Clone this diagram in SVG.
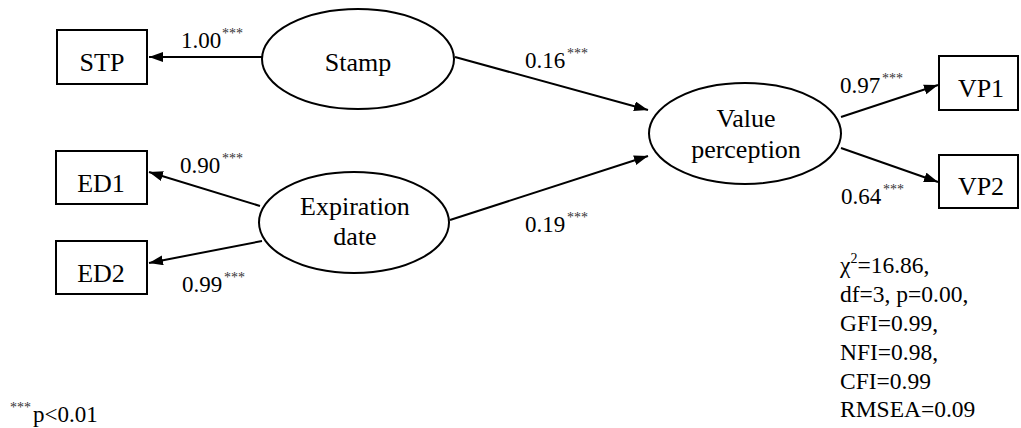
<svg xmlns="http://www.w3.org/2000/svg" width="1021" height="428" viewBox="0 0 1021 428" font-family="Liberation Serif, Times New Roman, serif">
  <style>
    .box { fill: #fff; stroke: #000; stroke-width: 2; }
    .lat { fill: #fff; stroke: #000; stroke-width: 2; }
    .name { font-size: 26px; fill: #000; text-anchor: middle; }
    .coef { font-size: 23px; fill: #000; }
    .sig { font-size: 14px; fill: #333; }
    .fit { font-size: 23.5px; fill: #000; }
    .edge { stroke: #000; stroke-width: 2; fill: none; marker-end: url(#head); }
  </style>
  <defs>
    <marker id="head" markerUnits="userSpaceOnUse" markerWidth="15" markerHeight="11" refX="14" refY="5" orient="auto">
      <path d="M0,0 L14,5 L0,10 Z" fill="#000"/>
    </marker>
  </defs>
  <rect width="1021" height="428" fill="#fff"/>

  <!-- paths and loadings -->
  <g id="connectors">
    <line class="edge" x1="262" y1="57" x2="149" y2="57"/>
    <line class="edge" x1="260" y1="206" x2="149" y2="172"/>
    <line class="edge" x1="262" y1="241" x2="149" y2="263"/>
    <line class="edge" x1="455" y1="57" x2="648" y2="110"/>
    <line class="edge" x1="450" y1="220" x2="648" y2="156"/>
    <line class="edge" x1="841" y1="117" x2="938" y2="85"/>
    <line class="edge" x1="841" y1="148" x2="938" y2="182"/>
  </g>

  <!-- observed indicators -->
  <g id="STP">
    <rect class="box" x="57" y="30" width="90" height="54"/>
    <text class="name" x="102" y="71">STP</text>
  </g>
  <g id="ED1">
    <rect class="box" x="56" y="151" width="91" height="53"/>
    <text class="name" x="101" y="192">ED1</text>
  </g>
  <g id="ED2">
    <rect class="box" x="56" y="241" width="91" height="53"/>
    <text class="name" x="101" y="282">ED2</text>
  </g>
  <g id="VP1">
    <rect class="box" x="939" y="56" width="79" height="54"/>
    <text class="name" x="981" y="97">VP1</text>
  </g>
  <g id="VP2">
    <rect class="box" x="939" y="155" width="79" height="53"/>
    <text class="name" x="981" y="195">VP2</text>
  </g>

  <!-- latent constructs -->
  <g id="Stamp">
    <ellipse class="lat" cx="358" cy="59" rx="96" ry="50"/>
    <text class="name" x="358" y="71">Stamp</text>
  </g>
  <g id="ExpirationDate">
    <ellipse class="lat" cx="354" cy="222.5" rx="95" ry="50.5"/>
    <text class="name" x="355" y="215">Expiration</text>
    <text class="name" x="355" y="245">date</text>
  </g>
  <g id="ValuePerception">
    <ellipse class="lat" cx="745" cy="133.5" rx="96" ry="50.5"/>
    <text class="name" x="746" y="127">Value</text>
    <text class="name" x="746" y="158">perception</text>
  </g>

  <!-- standardized estimates -->
  <g id="estimates">
    <text class="coef" x="181" y="48">1.00</text><text class="sig" x="222" y="38">***</text>
    <text class="coef" x="180" y="173">0.90</text><text class="sig" x="222" y="163">***</text>
    <text class="coef" x="182" y="292">0.99</text><text class="sig" x="224" y="282">***</text>
    <text class="coef" x="525" y="68">0.16</text><text class="sig" x="567" y="58">***</text>
    <text class="coef" x="525" y="232">0.19</text><text class="sig" x="567" y="222">***</text>
    <text class="coef" x="840" y="93">0.97</text><text class="sig" x="882" y="83">***</text>
    <text class="coef" x="841" y="204">0.64</text><text class="sig" x="883" y="194">***</text>
  </g>

  <!-- model fit -->
  <g id="fit">
    <text class="fit" x="840" y="273">χ<tspan font-size="14" dy="-10">2</tspan><tspan dy="10">=16.86,</tspan></text>
    <text class="fit" x="840" y="302">df=3, p=0.00,</text>
    <text class="fit" x="840" y="331">GFI=0.99,</text>
    <text class="fit" x="840" y="360">NFI=0.98,</text>
    <text class="fit" x="840" y="389">CFI=0.99</text>
    <text class="fit" x="840" y="417">RMSEA=0.09</text>
  </g>

  <!-- significance note -->
  <g id="note">
    <text class="sig" x="10" y="412">***</text>
    <text class="coef" x="33" y="422">p&lt;0.01</text>
  </g>
</svg>
